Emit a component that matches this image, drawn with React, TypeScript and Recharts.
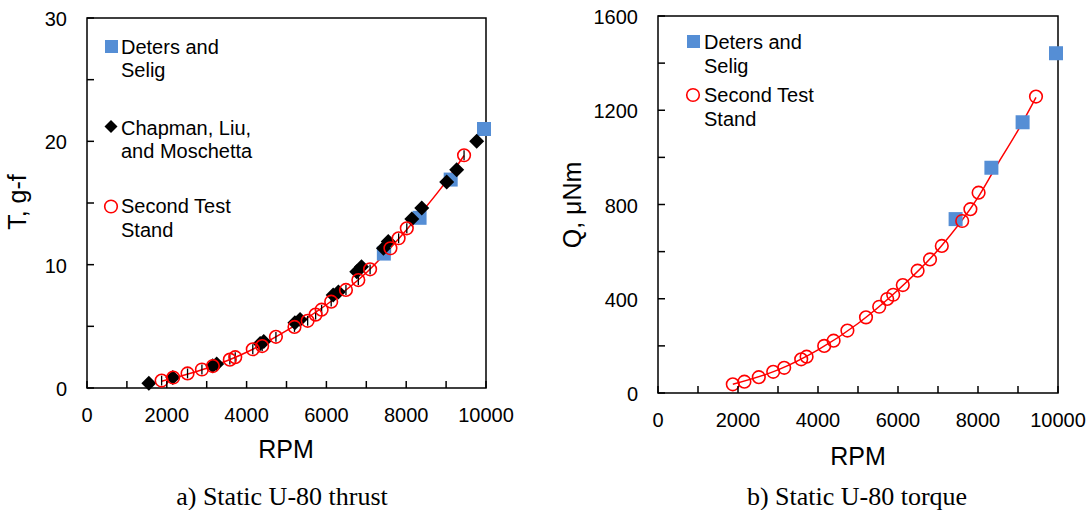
import { ComposedChart, Scatter, Line, XAxis, YAxis, ReferenceArea, ErrorBar } from 'recharts';

// values
const detersRpm = [7440, 8335, 9115, 9950];
const detersThrust = [10.9, 13.8, 16.9, 21.0];
const detersTorque = [738, 956, 1149, 1442];

const chapmanRpm = [1550, 2150, 3150, 3250, 4340, 4430, 5210, 5340, 6170, 6300, 6760, 6880, 7430, 7550, 8140, 8390, 9015, 9265, 9766];
const chapmanThrust = [0.38, 0.85, 1.8, 1.95, 3.6, 3.78, 5.3, 5.55, 7.54, 7.78, 9.43, 9.84, 11.33, 11.87, 13.7, 14.6, 16.7, 17.7, 20.0];

const secondRpm = [1870, 2160, 2520, 2880, 3155, 3580, 3715, 4155, 4390, 4735, 5200, 5530, 5730, 5880, 6120, 6490, 6800, 7095, 7605, 7810, 8015, 9450];
const secondThrust = [0.6, 0.85, 1.18, 1.5, 1.78, 2.3, 2.5, 3.14, 3.4, 4.15, 4.95, 5.45, 5.95, 6.35, 7.0, 7.95, 8.75, 9.62, 11.33, 12.14, 12.95, 18.87];
const secondThrustErr = [0.4, 0.4, 0.4, 0.4, 0.4, 0.4, 0.4, 0.4, 0.4, 0.4, 0.4, 0.4, 0.4, 0.4, 0.4, 0.4, 0.4, 0.4, 0.4, 0.4, 0.4, 0.4];
const secondTorque = [37, 48, 67, 90, 107, 143, 154, 200, 222, 265, 321, 366, 399, 417, 458, 519, 567, 624, 730, 780, 850, 1258];

const thrustFitRpm = [1870, 3000, 4000, 5000, 6000, 7000, 8000, 9000, 9450];
const thrustFit = [0.55, 1.6, 2.9, 4.65, 6.75, 9.35, 12.8, 16.75, 18.85];
const torqueFitRpm = [1870, 3000, 4000, 5000, 6000, 7000, 8000, 8500, 9000, 9450];
const torqueFit = [37, 98, 183, 295, 437, 607, 830, 975, 1115, 1255];

const rpmTicks = [0, 1000, 2000, 3000, 4000, 5000, 6000, 7000, 8000, 9000, 10000];
const thrustTicks = [0, 5, 10, 15, 20, 25, 30];
const torqueTicks = [0, 200, 400, 600, 800, 1000, 1200, 1400, 1600];

const BLUE = '#558ED5';
const RED = '#FF0000';
const SANS = '"Liberation Sans", Arial, sans-serif';
const SERIF = '"Liberation Serif", "Times New Roman", serif';

const detersT = detersRpm.map((rpm, i) => ({ rpm, v: detersThrust[i] }));
const detersQ = detersRpm.map((rpm, i) => ({ rpm, v: detersTorque[i] }));
const chapmanT = chapmanRpm.map((rpm, i) => ({ rpm, v: chapmanThrust[i] }));
const secondT = secondRpm.map((rpm, i) => ({ rpm, v: secondThrust[i], err: secondThrustErr[i] }));
const secondQ = secondRpm.map((rpm, i) => ({ rpm, v: secondTorque[i] }));
const fitT = thrustFitRpm.map((rpm, i) => ({ rpm, v: thrustFit[i] }));
const fitQ = torqueFitRpm.map((rpm, i) => ({ rpm, v: torqueFit[i] }));

const Square = (p: any) => <rect x={p.cx - 7} y={p.cy - 7} width={14} height={14} fill={BLUE} />;
const Diamond = (p: any) => (
  <polygon points={`${p.cx},${p.cy - 7.5} ${p.cx + 7.5},${p.cy} ${p.cx},${p.cy + 7.5} ${p.cx - 7.5},${p.cy}`} fill="#000" />
);
const Ring = (p: any) => <circle cx={p.cx} cy={p.cy} r={6.3} fill="none" stroke={RED} strokeWidth={1.6} />;

const makeXTick = (step: number) => (props: any) => {
  const { x, y, payload } = props;
  return (
    <g>
      <line x1={x} x2={x} y1={y} y2={y - 7} stroke="#000" strokeWidth={1.5} />
      {payload.value % step === 0 && (
        <text x={x} y={y + 34} textAnchor="middle" fontSize={20} fontFamily={SANS} fill="#000">
          {payload.value}
        </text>
      )}
    </g>
  );
};

const makeYTick = (step: number) => (props: any) => {
  const { x, y, payload } = props;
  return (
    <g>
      <line x1={x} x2={x + 7} y1={y} y2={y} stroke="#000" strokeWidth={1.5} />
      {payload.value % step === 0 && (
        <text x={x - 20} y={y + 8} textAnchor="end" fontSize={20} fontFamily={SANS} fill="#000">
          {payload.value}
        </text>
      )}
    </g>
  );
};

function ThrustChart() {
  return (
    <ComposedChart width={540} height={430} margin={{ top: 18, right: 54, left: 27, bottom: 0 }}>
      <XAxis type="number" dataKey="rpm" domain={[0, 10000]} ticks={rpmTicks} height={42}
        axisLine={false} tickLine={false} tickSize={0} tickMargin={0} tick={makeXTick(2000)} interval={0} />
      <YAxis type="number" dataKey="v" domain={[0, 30]} ticks={thrustTicks} width={60}
        axisLine={false} tickLine={false} tickSize={0} tickMargin={0} tick={makeYTick(10)} interval={0} />
      <ReferenceArea x1={0} x2={10000} y1={0} y2={30} fill="none" stroke="#000" strokeWidth={1.5} />
      <Scatter data={detersT} dataKey="v" shape={Square} isAnimationActive={false} />
      <Scatter data={chapmanT} dataKey="v" shape={Diamond} isAnimationActive={false} />
      <Line data={fitT} dataKey="v" type="monotone" stroke={RED} strokeWidth={1.5} dot={false} isAnimationActive={false} />
      <Scatter data={secondT} dataKey="v" shape={Ring} isAnimationActive={false}>
        <ErrorBar dataKey="err" direction="y" width={0} stroke="#000" strokeWidth={1.3} />
      </Scatter>
    </ComposedChart>
  );
}

function TorqueChart() {
  return (
    <ComposedChart width={520} height={440} margin={{ top: 16, right: 32, left: 28, bottom: 0 }}>
      <XAxis type="number" dataKey="rpm" domain={[0, 10000]} ticks={rpmTicks} height={47}
        axisLine={false} tickLine={false} tickSize={0} tickMargin={0} tick={makeXTick(2000)} interval={0} />
      <YAxis type="number" dataKey="v" domain={[0, 1600]} ticks={torqueTicks} width={60}
        axisLine={false} tickLine={false} tickSize={0} tickMargin={0} tick={makeYTick(400)} interval={0} />
      <ReferenceArea x1={0} x2={10000} y1={0} y2={1600} fill="none" stroke="#000" strokeWidth={1.5} />
      <Scatter data={detersQ} dataKey="v" shape={Square} isAnimationActive={false} />
      <Line data={fitQ} dataKey="v" type="monotone" stroke={RED} strokeWidth={1.5} dot={false} isAnimationActive={false} />
      <Scatter data={secondQ} dataKey="v" shape={Ring} isAnimationActive={false} />
    </ComposedChart>
  );
}

export default function App() {
  const txt = { fontFamily: SANS, fontSize: 20, fill: '#000' };
  return (
    <div style={{ position: 'absolute', left: 0, top: 0, width: 1090, height: 510, background: '#fff', overflow: 'hidden' }}>
      <div style={{ position: 'absolute', left: 0, top: 0 }}>
        <ThrustChart />
      </div>
      <div style={{ position: 'absolute', left: 570, top: 0 }}>
        <TorqueChart />
      </div>
      <svg width={1090} height={510} style={{ position: 'absolute', left: 0, top: 0, pointerEvents: 'none' }}>
        {/* left legend */}
        <rect x={105} y={40} width={13} height={13} fill={BLUE} />
        <text x={121} y={54} {...txt}>Deters and</text>
        <text x={121} y={77} {...txt}>Selig</text>
        <polygon points="111,120 117.5,126.5 111,133 104.5,126.5" fill="#000" />
        <text x={121} y={135} {...txt}>Chapman, Liu,</text>
        <text x={121} y={158} {...txt}>and Moschetta</text>
        <circle cx={111} cy={206.5} r={6.3} fill="none" stroke={RED} strokeWidth={1.6} />
        <text x={121} y={213} {...txt}>Second Test</text>
        <text x={121} y={237} {...txt}>Stand</text>

        {/* right legend */}
        <rect x={687} y={35} width={13} height={13} fill={BLUE} />
        <text x={704} y={49} {...txt}>Deters and</text>
        <text x={704} y={73} {...txt}>Selig</text>
        <circle cx={693} cy={95} r={6.3} fill="none" stroke={RED} strokeWidth={1.6} />
        <text x={704} y={102} {...txt}>Second Test</text>
        <text x={704} y={126} {...txt}>Stand</text>

        {/* axis titles */}
        <text x={286} y={458} textAnchor="middle" fontFamily={SANS} fontSize={25}>RPM</text>
        <text x={858} y={465} textAnchor="middle" fontFamily={SANS} fontSize={25}>RPM</text>
        <text transform="translate(26,202) rotate(-90)" textAnchor="middle" fontFamily={SANS} fontSize={25}>T, g-f</text>
        <text transform="translate(581,205) rotate(-90)" textAnchor="middle" fontFamily={SANS} fontSize={25}>Q, μNm</text>

        {/* captions */}
        <text x={282} y={505} textAnchor="middle" fontFamily={SERIF} fontSize={26}>a) Static U-80 thrust</text>
        <text x={857} y={505} textAnchor="middle" fontFamily={SERIF} fontSize={26}>b) Static U-80 torque</text>
      </svg>
    </div>
  );
}
